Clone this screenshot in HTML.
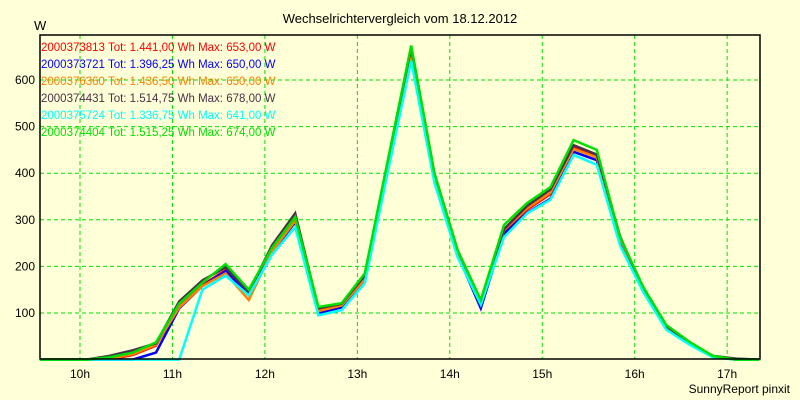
<!DOCTYPE html>
<html><head><meta charset="utf-8"><style>
body{margin:0;background:#ffffd8;}
svg{display:block;font-family:"Liberation Sans",sans-serif;}
</style></head><body>
<svg id="chart" width="800" height="400">
<rect x="0" y="0" width="800" height="400" fill="#ffffd8"/>
<text x="400" y="23" text-anchor="middle" font-size="13" fill="#000">Wechselrichtervergleich vom 18.12.2012</text>
<text x="34" y="30" font-size="13" fill="#000">W</text>
<text x="790" y="393" text-anchor="end" font-size="12" fill="#000">SunnyReport pinxit</text>
<g id="grid"></g><g id="series"></g><g id="legend"></g>
<rect x="40" y="35" width="720" height="324" fill="none" stroke="#000" stroke-width="1.5"/>
</svg>
<script>
const hourTicks=[10,11,12,13,14,15,16,17];
const yTicks=[100,200,300,400,500,600];
const seriesNames=["2000373813","2000373721","2000376360","2000374431","2000375724","2000374404"];
const seriesColors=["#ff0000","#0000ff","#ff8000","#4a3048","#00ffff","#00e000"];
const seriesTotals=["1.441,00","1.396,25","1.436,50","1.514,75","1.336,75","1.515,25"];
const seriesMax=["653,00","650,00","650,00","678,00","641,00","674,00"];
const red=[0,0,0,0,10,30,115,160,192,140,235,300,105,118,175,420,653,390,228,120,275,322,355,456,436,258,150,68,35,6,0,0];
const blue=[0,0,0,0,0,15,110,158,190,138,230,295,100,112,170,415,650,388,225,110,270,315,345,446,428,255,150,68,34,6,0,0];
const orange=[0,0,0,2,12,32,112,158,185,128,232,298,104,116,172,420,650,392,230,122,278,325,358,452,434,260,150,70,36,7,0,0];
const dark=[0,0,0,8,20,35,125,170,198,145,245,314,110,120,180,425,670,400,235,125,280,330,365,460,440,265,150,72,35,8,2,0];
const cyan=[0,0,0,0,0,0,0,150,180,138,225,284,95,106,164,405,641,380,220,118,263,314,343,439,418,245,145,64,32,5,0,0];
const green=[0,0,0,5,15,37,120,165,205,150,240,306,113,121,185,430,674,400,235,128,289,336,370,471,450,263,156,74,38,8,0,0];
const allSeries=[red,blue,orange,dark,cyan,green];
const NS="http://www.w3.org/2000/svg";
function xIdx(i){return 40+i*23.2;}
function xHour(h){return 80+(h-10)*92.45;}
function yVal(v){return 359.6-v*0.466;}
const grid=document.getElementById('grid');
hourTicks.forEach(h=>{
 const l=document.createElementNS(NS,'line');
 l.setAttribute('x1',xHour(h));l.setAttribute('x2',xHour(h));l.setAttribute('y1',35);l.setAttribute('y2',359);
 l.setAttribute('stroke','#00e000');l.setAttribute('stroke-dasharray','4,3');
 
 
 grid.appendChild(l);
 const t=document.createElementNS(NS,'text');
 t.setAttribute('x',xHour(h));t.setAttribute('y',378);t.setAttribute('text-anchor','middle');t.setAttribute('font-size','12');
 t.textContent=h+'h';
 
 
 grid.appendChild(t);
});
yTicks.forEach(v=>{
 const l=document.createElementNS(NS,'line');
 l.setAttribute('x1',40);l.setAttribute('x2',760);l.setAttribute('y1',yVal(v));l.setAttribute('y2',yVal(v));
 l.setAttribute('stroke','#00e000');l.setAttribute('stroke-dasharray','4,3');
 
 
 grid.appendChild(l);
 const t=document.createElementNS(NS,'text');
 t.setAttribute('x',35);t.setAttribute('y',yVal(v)+4);t.setAttribute('text-anchor','end');t.setAttribute('font-size','12');
 t.textContent=v;
 
 
 grid.appendChild(t);
});
const sg=document.getElementById('series');
allSeries.forEach((s,k)=>{
 const p=document.createElementNS(NS,'polyline');
 p.setAttribute('points',s.map((v,i)=>xIdx(i)+','+yVal(v)).join(' '));
 p.setAttribute('fill','none');p.setAttribute('stroke',seriesColors[k]);p.setAttribute('stroke-width','2.5');
 
 
 sg.appendChild(p);
});
const lg=document.getElementById('legend');
seriesNames.forEach((n,k)=>{
 const t=document.createElementNS(NS,'text');
 t.setAttribute('x',41);t.setAttribute('y',51+k*17);t.setAttribute('font-size','11.5');t.setAttribute('fill',seriesColors[k]);
 t.textContent=n+' Tot: '+seriesTotals[k]+' Wh Max: '+seriesMax[k]+' W';
 
 
 lg.appendChild(t);
});
</script>
</body></html>
